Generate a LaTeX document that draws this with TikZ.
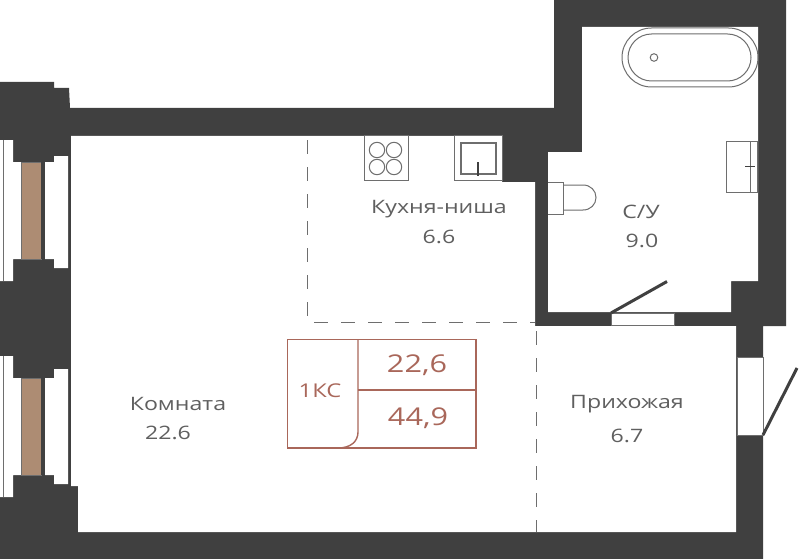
\documentclass[tikz,border=0pt]{standalone}
\usepackage{fontspec}
\setmainfont{Open Sans}
\newfontfamily\lbl[FakeStretch=1.25]{Open Sans}
\definecolor{wall}{HTML}{404040}
\definecolor{fixt}{HTML}{6E6E6E}
\definecolor{wood}{HTML}{AD8C73}
\definecolor{plan}{HTML}{A9675A}
\definecolor{txt}{HTML}{5F5F5F}
\tikzset{
  wallfill/.style={fill=wall,draw=none},
  gap/.style={fill=white,draw=none},
  glass/.style={fill=white,draw=fixt,line width=0.8pt},
  fixture/.style={draw=fixt,line width=1pt,fill=white},
  zone/.style={draw=fixt,line width=1pt,dash pattern=on 14pt off 13pt},
  leaf/.style={draw=wall,line width=3pt},
  wood pane/.style={fill=wood,draw=fixt,line width=0.8pt},
  roomlabel/.style={text=txt,font=\lbl\fontsize{18.5}{20}\selectfont,inner sep=0pt},
  planline/.style={draw=plan,line width=1.4pt},
  plannum/.style={text=plan,font=\lbl\fontsize{24.5}{26}\selectfont,inner sep=0pt},
  plancode/.style={text=plan,font=\lbl\fontsize{19}{21}\selectfont,inner sep=0pt}
}
\begin{document}
\begin{tikzpicture}[x=1pt,y=-1pt]
\useasboundingbox (0,0) rectangle (800,559);
% building silhouette
\fill[wallfill] (0,82)--(54,82)--(54,88)--(69,88)--(70,108)--(554,108)--(554,0)--(786,0)--(786,326)--(763,326)--(763,559)--(0,559)--cycle;
% main room
\fill[gap] (71,136)--(502,136)--(502,182)--(535,182)--(535,326)--(736,326)--(736,532)--(78,532)--(78,486)--(71,486)--cycle;
% bathroom
\fill[gap] (582,27)--(758,27)--(758,281)--(731,281)--(731,312)--(548,312)--(548,152)--(582,152)--cycle;
% left windows: outer white panes
\fill[gap] (0,140)--(13,140)--(13,162)--(21,162)--(21,259)--(13,259)--(13,281)--(0,281)--cycle;
\fill[gap] (0,356)--(13,356)--(13,378)--(21,378)--(21,475)--(13,475)--(13,497)--(0,497)--cycle;
% left windows: inner white panes
\fill[gap] (45,162)--(54,162)--(54,156)--(68,156)--(68,268)--(54,268)--(54,259)--(45,259)--cycle;
\fill[gap] (45,378)--(54,378)--(54,369)--(68,369)--(68,484)--(54,484)--(54,475)--(45,475)--cycle;
% glass lines and wooden panes
\draw[fixt,line width=0.9pt] (3.7,140)--(3.7,281);
\draw[fixt,line width=0.9pt] (3.7,356)--(3.7,497);
\path[wood pane] (21.5,162)rectangle(41,259);
\path[wood pane] (21.5,378)rectangle(41,475);
\fill[wallfill] (41,162)rectangle(45,259);
\fill[wallfill] (41,378)rectangle(45,475);
% door openings
\path[glass] (611,313)rectangle(674,325);
\path[glass] (737,357)rectangle(763,435);
\coordinate (bdA) at (611,313);
\coordinate (bdB) at (667,281.5);
\coordinate (edA) at (763,435);
\coordinate (edB) at (797,368);
\draw[leaf] (bdA)--(bdB);
\draw[leaf] (edA)--(edB);
% zone lines
\draw[zone] (307,140)--(307,322)--(535,322);
\draw[zone] (536,331)--(536,532);
% stove
\path[fixture] (364,136)rectangle(408,180);
\foreach \cx/\cy in {377/150,394/150,377/167,394/167}
  \draw[fixt,line width=1pt] (\cx,\cy) circle[radius=7.7];
% kitchen sink
\path[fixture] (454,136)rectangle(502,180);
\draw[fixt,line width=1.4pt] (461,143)rectangle(496,174);
\draw[wall,line width=2pt] (478,162)--(478,176);
% bath
\draw[fixt,line width=1pt,rounded corners=29.5pt] (622,28)rectangle(758,87);
\draw[fixt,line width=1pt,rounded corners=23.5pt] (628,34)rectangle(751,81);
\draw[fixt,line width=1pt] (654,57.5) circle[radius=3.8];
% wash basin
\draw[fixt,line width=1pt] (726,141.5)rectangle(757.5,192);
\draw[fixt,line width=1pt] (750,141.5)--(750,192);
\draw[wall,line width=1.5pt] (745,166.5)--(755,166.5);
% toilet
\draw[fixt,line width=1pt] (548,182)--(563.5,182)--(563.5,214)--(548,214);
\draw[fixt,line width=1pt] (564,185)--(583,185) .. controls (590.5,185) and (596,190.5) .. (596,197.5) .. controls (596,204.5) and (590.5,210) .. (583,210)--(564,210);
% plan badge
\draw[planline] (287.5,339.5)rectangle(476,448);
\draw[planline] (358,339.5)--(358,432) .. controls (358,442) and (350,448) .. (338,448);
\draw[planline] (358,390)--(476,390);
% labels
\node[roomlabel] (kitchen) at (439,209) {Кухня-ниша};
\node[roomlabel] (kitchenA) at (439,237) {6.6};
\node[roomlabel] (bath) at (641,212) {С/У};
\node[roomlabel] (bathA) at (642,241) {9.0};
\node[roomlabel] (room) at (178,404) {Комната};
\node[roomlabel] (roomA) at (168,433) {22.6};
\node[roomlabel] (hall) at (627,404) {Прихожая};
\node[roomlabel] (hallA) at (627,436) {6.7};
\node[plancode] (code) at (320,391) {1КС};
\node[plannum] (areaA) at (417,365) {22,6};
\node[plannum] (areaB) at (418,418) {44,9};
\end{tikzpicture}
\end{document}
